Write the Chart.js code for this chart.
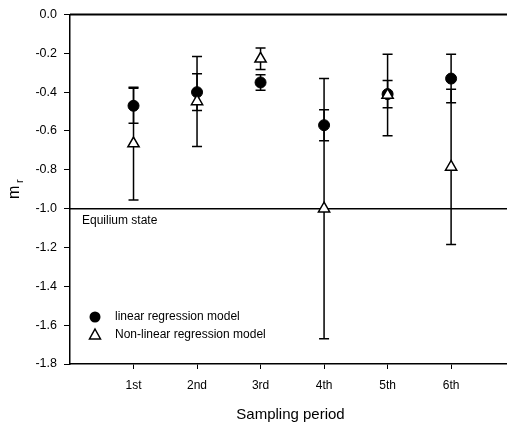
<!DOCTYPE html>
<html lang="en">
<head>
<meta charset="UTF-8">
<title>m_r by sampling period</title>
<script src="https://cdn.jsdelivr.net/npm/chart.js"></script>
<style>
    html, body { margin: 0; padding: 0; background: #fff; overflow: hidden; }
    #box { width: 507px; height: 422px; }
</style>
</head>
<body>
<div id="box"><canvas id="grafico"></canvas></div>
<script>
    // values
    const periods = ['1st', '2nd', '3rd', '4th', '5th', '6th'];
    const linearMr = [-0.47, -0.40, -0.35, -0.57, -0.41, -0.33];
    const linearErr = [0.09, 0.095, 0.04, 0.08, 0.07, 0.125];
    const nonLinearMr = [-0.665, -0.448, -0.228, -1.0, -0.415, -0.785];
    const nonLinearErr = [0.29, 0.232, 0.055, 0.67, 0.21, 0.40];
    const equilibrium = -1.0;
    const yTicks = [0, -0.2, -0.4, -0.6, -0.8, -1.0, -1.2, -1.4, -1.6, -1.8];

    const FONT = "'Liberation Sans', Arial, sans-serif";

    function toPoints(vals, errs) {
        return vals.map((v, i) => ({x: i + 1, y: v, err: errs[i]}));
    }

    // error bars, equilibrium line, top border, legend, axis titles
    const extras = {
        id: 'extras',
        beforeDatasetsDraw(chart) {
            const ctx = chart.ctx;
            const xs = chart.scales.x, ys = chart.scales.y;
            const area = chart.chartArea;
            ctx.save();
            ctx.strokeStyle = '#000';

            // equilibrium line
            ctx.lineWidth = 1.5;
            let ye = ys.getPixelForValue(equilibrium);
            ctx.beginPath();
            ctx.moveTo(area.left, ye);
            ctx.lineTo(area.right, ye);
            ctx.stroke();
            ctx.fillStyle = '#000';
            ctx.font = '12px ' + FONT;
            ctx.textBaseline = 'middle';
            ctx.fillText('Equilium state', area.left + 12, ye + 12);

            // top border
            ctx.lineWidth = 2;
            ctx.beginPath();
            ctx.moveTo(area.left, area.top);
            ctx.lineTo(area.right, area.top);
            ctx.stroke();

            // error bars
            ctx.lineWidth = 1.5;
            chart.data.datasets.forEach(ds => {
                ds.data.forEach(p => {
                    let px = xs.getPixelForValue(p.x);
                    let top = ys.getPixelForValue(p.y + p.err);
                    let bot = ys.getPixelForValue(p.y - p.err);
                    ctx.beginPath();
                    ctx.moveTo(px, top); ctx.lineTo(px, bot);
                    ctx.moveTo(px - 5, top); ctx.lineTo(px + 5, top);
                    ctx.moveTo(px - 5, bot); ctx.lineTo(px + 5, bot);
                    ctx.stroke();
                });
            });
            ctx.restore();
        },
        afterDraw(chart) {
            const ctx = chart.ctx;
            const area = chart.chartArea;
            ctx.save();
            // legend inside the plot
            let lx = area.left + 25;
            let ly1 = area.bottom - 47, ly2 = area.bottom - 29;
            ctx.fillStyle = '#000';
            ctx.beginPath();
            ctx.arc(lx, ly1, 5.5, 0, Math.PI * 2);
            ctx.fill();
            ctx.strokeStyle = '#000';
            ctx.lineWidth = 1.5;
            ctx.beginPath();
            ctx.moveTo(lx, ly2 - 6);
            ctx.lineTo(lx + 5.5, ly2 + 4);
            ctx.lineTo(lx - 5.5, ly2 + 4);
            ctx.closePath();
            ctx.stroke();
            ctx.font = '12px ' + FONT;
            ctx.textBaseline = 'middle';
            ctx.fillText('linear regression model', lx + 20, ly1);
            ctx.fillText('Non-linear regression model', lx + 20, ly2);

            // x title
            ctx.font = '15px ' + FONT;
            ctx.textAlign = 'center';
            ctx.textBaseline = 'alphabetic';
            ctx.fillText('Sampling period', (area.left + area.right) / 2 + 2, 419);

            // y title m with subscript r
            ctx.translate(15, (area.top + area.bottom) / 2);
            ctx.rotate(-Math.PI / 2);
            ctx.font = '16px ' + FONT;
            ctx.textBaseline = 'middle';
            ctx.textAlign = 'center';
            ctx.fillText('m', -3, 0);
            ctx.font = '11px ' + FONT;
            ctx.fillText('r', 8, 5);
            ctx.restore();
        }
    };

    new Chart(document.getElementById('grafico'), {
        type: 'scatter',
        data: {
            datasets: [
                {
                    label: 'linear regression model',
                    data: toPoints(linearMr, linearErr),
                    pointStyle: 'circle',
                    pointRadius: 5.5,
                    backgroundColor: '#000',
                    borderColor: '#000',
                    borderWidth: 1,
                    order: 2
                },
                {
                    label: 'Non-linear regression model',
                    data: toPoints(nonLinearMr, nonLinearErr),
                    pointStyle: 'triangle',
                    pointRadius: 6.5,
                    backgroundColor: '#fff',
                    borderColor: '#000',
                    borderWidth: 1.5,
                    order: 1
                }
            ]
        },
        options: {
            responsive: true,
            maintainAspectRatio: false,
            animation: false,
            layout: { autoPadding: false, padding: { top: 14, right: 0, left: 0, bottom: 0 } },
            plugins: {
                legend: { display: false },
                tooltip: { enabled: false }
            },
            scales: {
                x: {
                    type: 'linear',
                    min: 0,
                    max: 6.88,
                    afterFit: s => { s.height = 58; s.paddingLeft = 0; s.paddingRight = 0; },
                    afterBuildTicks: s => { s.ticks = periods.map((p, i) => ({value: i + 1})); },
                    ticks: {
                        autoSkip: false,
                        maxRotation: 0,
                        padding: 9,
                        color: '#000',
                        font: { family: FONT, size: 12 },
                        callback: v => periods[v - 1]
                    },
                    grid: { drawOnChartArea: false, drawTicks: true, tickLength: 5, color: '#000', lineWidth: 1 },
                    border: { display: true, color: '#000', width: 1.5 }
                },
                y: {
                    min: -1.8,
                    max: 0,
                    afterFit: s => { s.width = 70; },
                    afterBuildTicks: s => { s.ticks = yTicks.map(v => ({value: v})); },
                    ticks: {
                        padding: 7,
                        color: '#000',
                        font: { family: FONT, size: 12.5 },
                        callback: v => v.toFixed(1)
                    },
                    grid: { drawOnChartArea: false, drawTicks: true, tickLength: 6, color: '#000', lineWidth: 1 },
                    border: { display: true, color: '#000', width: 1.5 }
                }
            }
        },
        plugins: [extras]
    });
</script>
</body>
</html>
